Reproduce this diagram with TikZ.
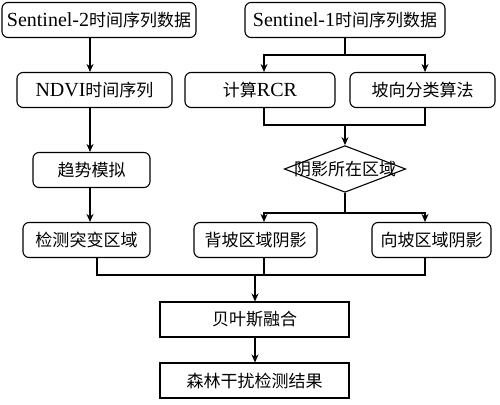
\documentclass[tikz,border=0pt]{standalone}
\usepackage{fontspec}
\setmainfont{Liberation Serif}
\newfontfamily\cjk{Noto Sans CJK SC}[Scale=0.85]
\usepackage{tikz}
\usetikzlibrary{arrows.meta,positioning,shapes.geometric,calc}
\newcommand{\zh}[1]{{\cjk #1}}

\begin{document}
\begin{tikzpicture}[x=1pt,y=1pt,>={Stealth[length=8pt,width=7pt]},line width=1.1pt,
    font=\fontsize{20}{24}\selectfont]
        \tikzstyle{box} = [rectangle, draw, rounded corners=6pt, inner sep=0pt, minimum height=35pt, text centered]
        \tikzstyle{sqbox} = [rectangle, draw, inner sep=0pt, minimum height=35pt, text centered]
        \tikzstyle{decide} = [diamond, draw, aspect=2.6, inner sep=-3pt, text centered]
        \tikzstyle{arr} = [->]
        \useasboundingbox (0,0) rectangle (500,404);

        % Nodes
        \node[box, minimum width=194pt] (s2) at (99,384) {Sentinel-2\zh{时间序列数据}};
        \node[box, minimum width=200pt] (s1) at (345,384) {Sentinel-1\zh{时间序列数据}};
        \node[box, minimum width=155pt] (ndvi) at (94.5,314) {NDVI\zh{时间序列}};
        \node[box, minimum width=150pt] (rcr) at (260,314) {\zh{计算}RCR};
        \node[box, minimum width=145pt] (aspect) at (422.5,314) {\zh{坡向分类算法}};
        \node[box, minimum width=117pt] (trend) at (91.5,234) {\zh{趋势模拟}};
        \node[decide] (shadow) at (345,235) {\zh{阴影所在区域}};
        \node[box, minimum width=127pt] (change) at (86.5,164) {\zh{检测突变区域}};
        \node[box, minimum width=123pt] (back) at (255.5,164) {\zh{背坡区域阴影}};
        \node[box, minimum width=119pt] (front) at (431.5,164) {\zh{向坡区域阴影}};
        \node[sqbox, minimum width=189pt] (bayes) at (254.5,84.5) {\zh{贝叶斯融合}};
        \node[sqbox, minimum width=189pt] (result) at (254.5,23.5) {\zh{森林干扰检测结果}};

        % Columns and junctions
        \coordinate (colA) at (90,0);
        \coordinate (colB) at (264,0);
        \coordinate (colC) at (425,0);
        \coordinate (colD) at (97,0);
        \coordinate (j1) at (345,349);
        \coordinate (j2) at (345,279);
        \coordinate (j3) at (345,191);
        \coordinate (j4) at (255,129);

        % Edges
        \draw[arr] (s2.south -| colA) -- (ndvi.north -| colA);
        \draw[arr] (ndvi.south -| colA) -- (trend.north -| colA);
        \draw[arr] (trend.south -| colA) -- (change.north -| colA);
        \draw (s1.south) -- (j1);
        \draw[arr] (j1) -| (rcr.north -| colB);
        \draw[arr] (j1) -| (aspect.north -| colC);
        \draw (rcr.south -| colB) |- (j2);
        \draw (aspect.south -| colC) |- (j2);
        \draw[arr] (j2) -- (shadow.north);
        \draw (shadow.south) -- (j3);
        \draw[arr] (j3) -| (back.north -| colB);
        \draw[arr] (j3) -| (front.north -| colC);
        \draw (change.south -| colD) |- (j4);
        \draw (back.south -| colB) |- (j4);
        \draw (front.south -| colC) |- (j4);
        \draw[arr] (j4) -- (bayes.north -| j4);
        \draw[arr] (bayes.south -| j4) -- (result.north -| j4);
    \end{tikzpicture}
\end{document}
